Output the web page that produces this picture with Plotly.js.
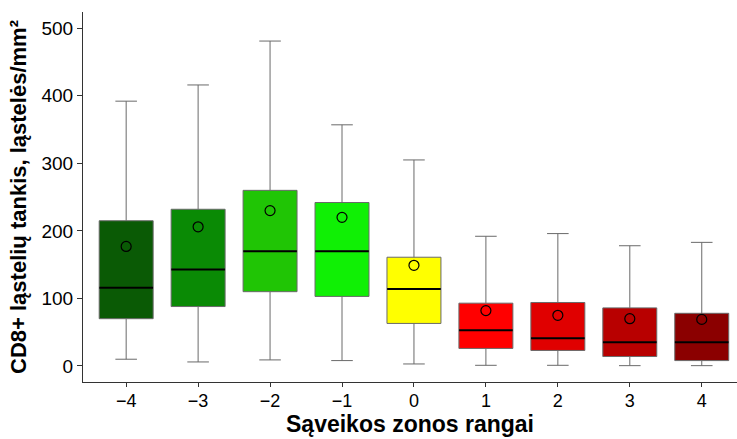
<!DOCTYPE html>
<html>
<head>
<meta charset="utf-8">
<script src="https://cdn.plot.ly/plotly-3.0.1.min.js"></script>
<style>html,body{margin:0;padding:0;background:#fff;}#chart{width:737px;height:439px;}</style>
</head>
<body>
<div id="chart"></div>
<script>
var ranks = [-4, -3, -2, -1, 0, 1, 2, 3, 4];
var tickLabels = ['\u22124', '\u22123', '\u22122', '\u22121', '0', '1', '2', '3', '4'];
var upper = [392, 416, 481, 357, 305, 192, 196, 178, 183];
var q3 = [215, 232, 260, 242, 161, 93, 94, 86, 78];
var median = [116, 143, 170, 170, 114, 53, 41, 35, 35];
var q1 = [70, 88, 110, 103, 63, 26, 23, 14, 8];
var lower = [10, 6, 9, 8, 3, 1, 1, 0.5, 0.5];
var means = [177, 206, 230, 220, 149, 82, 75, 70, 69];
var colors = ['#0a5a05', '#0a8a05', '#20c505', '#10f005', '#ffff00', '#ff0000', '#e00000', '#b80000', '#8b0000'];

var traces = [];
ranks.forEach(function (r, i) {
  traces.push({
    type: 'box',
    x: [r],
    q1: [q1[i]], median: [median[i]], q3: [q3[i]],
    lowerfence: [lower[i]], upperfence: [upper[i]],
    fillcolor: colors[i],
    line: {color: '#6a6a6a', width: 1},
    width: 0.75,
    whiskerwidth: 0.4,
    boxpoints: false,
    hoverinfo: 'skip',
    showlegend: false
  });
});
traces.push({
  type: 'scatter', mode: 'markers', x: ranks, y: median,
  marker: {symbol: 'line-ew', size: 38.3, line: {color: '#000', width: 2}},
  hoverinfo: 'skip', showlegend: false
});
traces.push({
  type: 'scatter', mode: 'markers', x: ranks, y: means,
  marker: {symbol: 'circle-open', size: 10, color: '#000', line: {color: '#000', width: 1.2}},
  hoverinfo: 'skip', showlegend: false
});

var layout = {
  width: 737, height: 439,
  margin: {l: 83, r: 0, t: 12, b: 57},
  paper_bgcolor: '#fff', plot_bgcolor: '#fff',
  font: {family: 'Liberation Sans, Arial, sans-serif', color: '#000'},
  xaxis: {
    range: [-4.6, 4.49], tickvals: ranks, ticktext: tickLabels,
    showline: true, linecolor: '#333', linewidth: 1,
    ticks: 'outside', ticklen: 4, tickcolor: '#333',
    ticklabelstandoff: -2,
    showgrid: false, zeroline: false,
    tickfont: {size: 18},
    title: {text: 'Sąveikos zonos rangai', font: {size: 23, weight: 'bold'}, standoff: 5}
  },
  yaxis: {
    range: [-23.7, 524], tickvals: [0, 100, 200, 300, 400, 500],
    showline: true, linecolor: '#333', linewidth: 1,
    ticks: 'outside', ticklen: 5, tickcolor: '#333',
    showgrid: false, zeroline: false,
    tickfont: {size: 19},
    title: {text: 'CD8+ ląstelių tankis, ląstelės/mm²', font: {size: 22, weight: 'bold'}, standoff: 8}
  }
};
Plotly.newPlot('chart', traces, layout, {displayModeBar: false, staticPlot: true});
</script>
</body>
</html>
